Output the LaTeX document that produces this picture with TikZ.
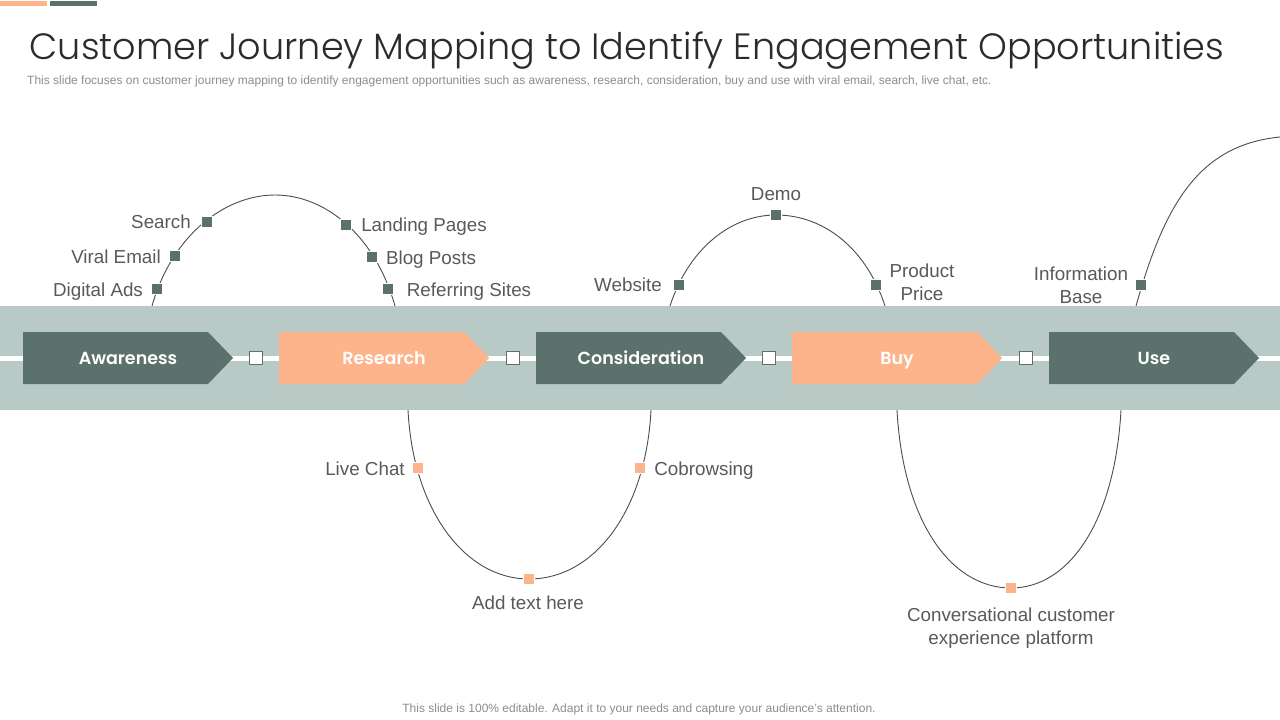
\documentclass[tikz,border=0pt]{standalone}
\usepackage{fontspec}
\setmainfont{Liberation Sans}
\newfontfamily\titlefont{Poppins Light}
\newfontfamily\stagefont{Poppins}[BoldFont={Poppins SemiBold}]
\definecolor{sage}{HTML}{5A716C}
\definecolor{peach}{HTML}{FDB48A}
\definecolor{band}{HTML}{B9C9C5}
\definecolor{lab}{HTML}{595959}
\definecolor{sub}{HTML}{8C8C8C}
\definecolor{ink}{HTML}{2B2B2B}
\tikzset{
  x=1pt,y=-1pt,
  curveline/.style={draw=black!70,line width=0.9pt},
  stagebox/.style={font=\stagefont\bfseries\fontsize{17.5}{21}\selectfont,text=white,anchor=base,inner sep=0pt},
  dotg/.style={rectangle,fill=sage,draw=white,line width=1pt,minimum size=11pt,inner sep=0pt},
  dotp/.style={rectangle,fill=peach,draw=white,line width=1pt,minimum size=11pt,inner sep=0pt},
  linkbox/.style={rectangle,fill=white,draw=sage,line width=0.7pt,minimum size=13pt,inner sep=0pt},
  lbl/.style={font=\fontsize{18.8}{23}\selectfont,text=lab,inner sep=0pt,align=center,anchor=center},
  lblb/.style={font=\fontsize{18.8}{23}\selectfont,text=lab,inner sep=0pt,anchor=base},
}
\begin{document}
\begin{tikzpicture}
\useasboundingbox (0,0) rectangle (1280,720);
% accent bars
\fill[peach] (0,1) rectangle (47,6);
\fill[sage] (50,1) rectangle (97,6);
% title
\node[inner sep=0pt,anchor=base,text=ink,font=\titlefont\fontsize{36.6}{44}\selectfont] (title) at (627,59) {Customer Journey Mapping to Identify Engagement Opportunities};
\node[inner sep=0pt,anchor=west,text=sub,font=\fontsize{12}{14}\selectfont] (subtitle) at (27,81.5) {This slide focuses on customer journey mapping to identify engagement opportunities such as awareness, research, consideration, buy and use with viral email, search, live chat, etc.};
% curves
\coordinate (a1) at (152,306); \coordinate (a2) at (395,306);
\coordinate (atop) at (275,195);
\draw[curveline] (a1) .. controls (172,235) and (225,195) .. (atop) .. controls (325,195) and (375,235) .. (a2);
\coordinate (b1) at (408,410); \coordinate (b2) at (651,410);
\coordinate (bbot) at (529,579);
\draw[curveline] (b1) .. controls (413,510) and (465,579) .. (bbot) .. controls (595,579) and (646,510) .. (b2);
\coordinate (c1) at (670,306); \coordinate (c2) at (885,306);
\coordinate (ctop) at (776,215);
\draw[curveline] (c1) .. controls (688,250) and (730,215) .. (ctop) .. controls (825,215) and (867,250) .. (c2);
\coordinate (d1) at (897,410); \coordinate (d2) at (1121,410);
\coordinate (dbot) at (1011,588);
\draw[curveline] (d1) .. controls (903,520) and (950,588) .. (dbot) .. controls (1070,588) and (1115,520) .. (d2);
\coordinate (e1) at (1136,306); \coordinate (e2) at (1280,137);
\draw[curveline] (e1) .. controls (1165,202) and (1200,145) .. (e2);
% band
\fill[band] (0,306) rectangle (1280,410);
\fill[white] (0,355.5) rectangle (1280,360.5);
% stages
\foreach \n/\x/\c/\t in {awareness/23/sage/Awareness,research/279/peach/Research,consideration/536/sage/Consideration,buy/792/peach/Buy,use/1049/sage/Use}{
  \fill[\c] (\x,332) -- ++(185,0) -- ++(25,26) -- ++(-25,26) -- ++(-185,0) -- cycle;
  \node[stagebox] (\n) at (\x+105,364) {\t};
}
% link squares
\foreach \n/\x in {l1/256,l2/513,l3/769,l4/1026}{\node[linkbox] (\n) at (\x,358) {};}
% dots
\foreach \n/\x/\y in {p1/157/289,p2/175/256,p3/207/222,p4/346/225,p5/372/257,p6/388/289,p7/679/285,p8/776/215,p9/876/285,p10/1141/285}{\node[dotg] (\n) at (\x,\y) {};}
\foreach \n/\x/\y in {q1/418/468,q2/640/468,q3/529/579,q4/1011/588}{\node[dotp] (\n) at (\x,\y) {};}
% labels
\node[lblb] (t1) at (98,296) {Digital Ads};
\node[lblb] (t2) at (116,263) {Viral Email};
\node[lblb] (t3) at (161,228) {Search};
\node[lblb] (t4) at (424,231) {Landing Pages};
\node[lblb] (t5) at (431,264) {Blog Posts};
\node[lblb] (t6) at (469,296) {Referring Sites};
\node[lblb] (t7) at (628,291) {Website};
\node[lblb] (t8) at (776,200) {Demo};
\node[lbl] (t9) at (922,282) {Product\\Price};
\node[lbl] (t10) at (1081,285.5) {Information\\Base};
\node[lblb] (t11) at (365,475) {Live Chat};
\node[lblb] (t12) at (704,475) {Cobrowsing};
\node[lblb] (t13) at (528,609) {Add text here};
\node[lbl] (t14) at (1011,628.5) {Conversational customer\\experience platform};
\node[inner sep=0pt,text=sub,font=\fontsize{12}{14}\selectfont] (foot) at (639,709) {This slide is 100\% editable. Adapt it to your needs and capture your audience's attention.};
\end{tikzpicture}
\end{document}
